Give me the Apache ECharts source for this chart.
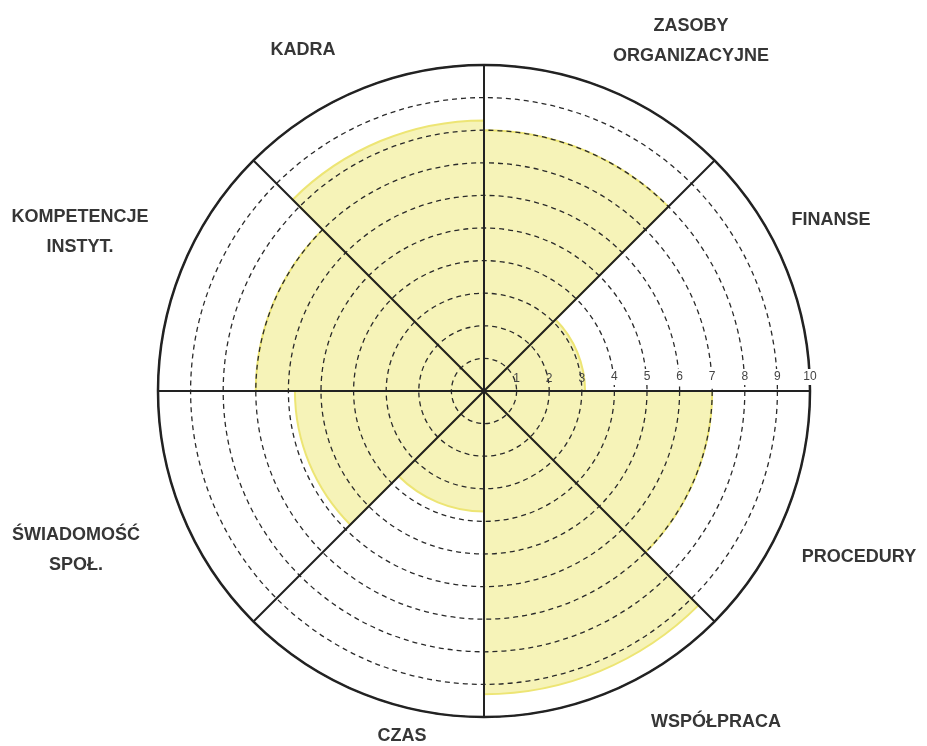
<!DOCTYPE html>
<html>
<head>
  <meta charset="utf-8">
  <title>Koło oceny</title>
  <script src="https://cdn.jsdelivr.net/npm/echarts@6/dist/echarts.min.js"></script>
  <style>
    html, body { margin: 0; padding: 0; background: #fff; }
    #main { width: 927px; height: 746px; }
  </style>
</head>
<body>
<div id="main"></div>
<script>
  // sektory od godziny 3 zgodnie z ruchem wskazówek zegara
  var categories = ['PROCEDURY', 'WSPÓŁPRACA', 'CZAS', 'ŚWIADOMOŚĆ SPOŁ.', 'KOMPETENCJE INSTYT.', 'KADRA', 'ZASOBY ORGANIZACYJNE', 'FINANSE'];
  var values = [7, 9.3, 3.7, 5.8, 7, 8.3, 8, 3.1];
  var scaleTicks = [1, 2, 3, 4, 5, 6, 7, 8, 9, 10];

  // podpisy sektorów (tekst i miejsce na obrazku)
  var sectorLabels = [
    { text: 'ZASOBY\nORGANIZACYJNE', x: 691, y: 41 },
    { text: 'FINANSE', x: 831, y: 220 },
    { text: 'PROCEDURY', x: 859, y: 557 },
    { text: 'WSPÓŁPRACA', x: 716, y: 722 },
    { text: 'CZAS', x: 402, y: 736 },
    { text: 'ŚWIADOMOŚĆ\nSPOŁ.', x: 76, y: 550 },
    { text: 'KOMPETENCJE\nINSTYT.', x: 80, y: 232 },
    { text: 'KADRA', x: 303, y: 50 }
  ];

  var chart = echarts.init(document.getElementById('main'));

  var graphics = sectorLabels.map(function (l) {
    return {
      type: 'text',
      x: l.x,
      y: l.y,
      style: {
        text: l.text,
        fill: '#363636',
        font: 'bold 18px "Liberation Sans", Arial, sans-serif',
        lineHeight: 30,
        align: 'center',
        verticalAlign: 'middle'
      }
    };
  });

  var option = {
    backgroundColor: '#ffffff',
    animation: false,
    polar: {
      center: [484, 391],
      radius: 326
    },
    angleAxis: {
      type: 'category',
      data: categories,
      startAngle: 0,
      clockwise: true,
      boundaryGap: true,
      z: 5,
      axisLine: { show: true, lineStyle: { color: '#222', width: 2.5 } },
      axisTick: { show: false },
      axisLabel: { show: false },
      splitLine: { show: true, lineStyle: { color: '#222', width: 2 } }
    },
    radiusAxis: {
      type: 'value',
      min: 0,
      max: 10,
      interval: 1,
      z: 5,
      axisLine: { show: false },
      axisTick: { show: false },
      axisLabel: {
        show: true,
        showMinLabel: false,
        margin: 6,
        color: '#444',
        fontSize: 12,
        fontFamily: '"Liberation Sans", Arial, sans-serif',
        formatter: function (v) {
          return scaleTicks.indexOf(v) >= 3 ? '{w|' + v + '}' : '' + v;
        },
        rich: {
          w: { backgroundColor: '#fff', padding: [2, 2], color: '#444', fontSize: 12 }
        }
      },
      splitLine: {
        show: true,
        lineStyle: { color: '#2a2a2a', width: 1.3, type: [5, 4] }
      }
    },
    graphic: graphics,
    series: [{
      type: 'bar',
      coordinateSystem: 'polar',
      data: values,
      barCategoryGap: '0%',
      z: 1,
      itemStyle: {
        color: '#f6f3b8',
        borderColor: '#ede574',
        borderWidth: 2
      }
    }]
  };

  chart.setOption(option);
</script>
</body>
</html>
